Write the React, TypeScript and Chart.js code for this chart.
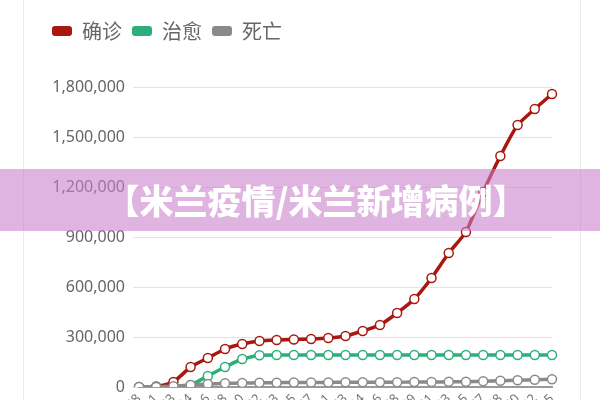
import React, { useEffect, useRef } from "react";
import { Chart, registerables } from "chart.js";

Chart.register(...registerables);

const dateLabels = [
  "02-28", "03-11", "03-23", "04-04", "04-16", "04-28", "05-10", "05-22",
  "06-03", "06-15", "06-27", "07-11", "07-23", "08-04", "08-16", "08-28",
  "09-09", "09-21", "10-03", "10-15", "10-27", "11-08", "11-20", "12-02", "12-15",
];

const confirmed = [
  0, 3000, 30000, 120000, 174000, 228000, 258000, 276000, 282000, 285000,
  288000, 294000, 306000, 336000, 372000, 444000, 528000, 654000, 804000,
  930000, 1170000, 1386000, 1572000, 1668000, 1758000,
];

const recovered = [
  0, 0, 0, 12000, 66000, 120000, 168000, 190000, 192000, 192000, 192000,
  192000, 192000, 192000, 192000, 192000, 192000, 192000, 192000, 192000,
  192000, 192000, 192000, 192000, 192000,
];

const deaths = [
  0, 500, 4000, 12000, 18000, 22000, 24000, 25000, 26000, 27000, 27000,
  27500, 28000, 28000, 28500, 29000, 29500, 30000, 31000, 32000, 34000,
  37000, 40000, 43000, 47000,
];

const seriesNames = ["确诊", "治愈", "死亡"];
const yTicks = [0, 300000, 600000, 900000, 1200000, 1500000, 1800000];
const bannerText = "【米兰疫情/米兰新增病例】";

const RED = "#a8180f";
const GREEN = "#2eae7b";
const GRAY = "#8a8a8a";

export default function App() {
  const ref = useRef<HTMLCanvasElement | null>(null);

  useEffect(() => {
    if (!ref.current) return;
    const mk = (label: string, data: number[], color: string) => ({
      label,
      data,
      borderColor: color,
      backgroundColor: color,
      pointBackgroundColor: "#ffffff",
      pointBorderColor: color,
      pointBorderWidth: 1.5,
      pointRadius: 4.5,
      borderWidth: 3.5,
      tension: 0.15,
      fill: false,
    });
    const legendSpacer = {
      id: "legendSpacer",
      beforeInit(chart: any) {
        if (!chart.legend) return;
        const fit = chart.legend.fit;
        chart.legend.fit = function () {
          fit.bind(chart.legend)();
          this.height += 36;
        };
      },
    };
    const chart = new Chart(ref.current, {
      type: "line",
      data: {
        labels: dateLabels,
        datasets: [
          mk(seriesNames[2], deaths, GRAY),
          mk(seriesNames[1], recovered, GREEN),
          mk(seriesNames[0], confirmed, RED),
        ],
      },
      options: {
        animation: false,
        responsive: true,
        maintainAspectRatio: false,
        layout: { padding: { left: 42, right: 48, top: 11, bottom: 0 } },
        plugins: {
          tooltip: { enabled: false },
          legend: {
            position: "top",
            align: "start",
            reverse: true,
            labels: {
              color: "#666",
              font: { size: 20, family: "'Noto Sans CJK SC', sans-serif" },
              boxWidth: 20,
              boxHeight: 10,
              padding: 10,
              useBorderRadius: true,
              borderRadius: 3,
              generateLabels: (c: any) =>
                Chart.defaults.plugins.legend.labels
                  .generateLabels(c)
                  .map((l: any) => ({ ...l, lineWidth: 0, fillStyle: l.strokeStyle })),
            },
          },
        },
        scales: {
          x: {
            type: "category",
            offset: false,
            grid: { display: false, drawTicks: false },
            border: { display: true, color: "#9a9a9a", width: 2 },
            ticks: {
              autoSkip: false,
              minRotation: 45,
              maxRotation: 45,
              color: "#777",
              padding: 4,
              font: { size: 13, family: "'Noto Sans', sans-serif" },
            },
            afterFit: (s: any) => {
              s.height = 53;
            },
          },
          y: {
            min: 0,
            max: 1800000,
            afterBuildTicks: (s: any) => {
              s.ticks = yTicks.map((v) => ({ value: v }));
            },
            grid: { color: "#e3e3e3", lineWidth: 1, tickLength: 6 },
            border: { display: false },
            ticks: {
              padding: 8,
              color: "#666",
              font: { size: 16, family: "'Noto Sans', sans-serif" },
              callback: (v: any) => Number(v).toLocaleString("en-US"),
            },
            afterFit: (s: any) => {
              s.width = 97;
            },
          },
        },
      },
      plugins: [legendSpacer],
    });
    return () => chart.destroy();
  }, []);

  return (
    <div
      style={{
        position: "absolute",
        left: 0,
        top: 0,
        width: 600,
        height: 400,
        overflow: "hidden",
        background: "#fff",
      }}
    >
      <div style={{ position: "absolute", left: 23, top: 0, width: 1, height: 400, background: "#ececec" }} />
      <div style={{ position: "absolute", left: 580, top: 0, width: 1, height: 400, background: "#ececec" }} />
      <div style={{ position: "absolute", left: 0, top: 0, width: 600, height: 440 }}>
        <canvas ref={ref} />
      </div>
      <div
        style={{
          position: "absolute",
          left: 0,
          top: 169,
          width: 600,
          height: 62,
          background: "rgba(202,126,202,0.58)",
          color: "#fff",
          fontFamily: "'Noto Sans CJK SC', sans-serif",
          fontWeight: 900,
          fontSize: 34,
          lineHeight: "62px",
          textAlign: "center",
          whiteSpace: "nowrap",
        }}
      >
        <span style={{ position: "relative", left: 16 }}>{bannerText}</span>
      </div>
    </div>
  );
}
